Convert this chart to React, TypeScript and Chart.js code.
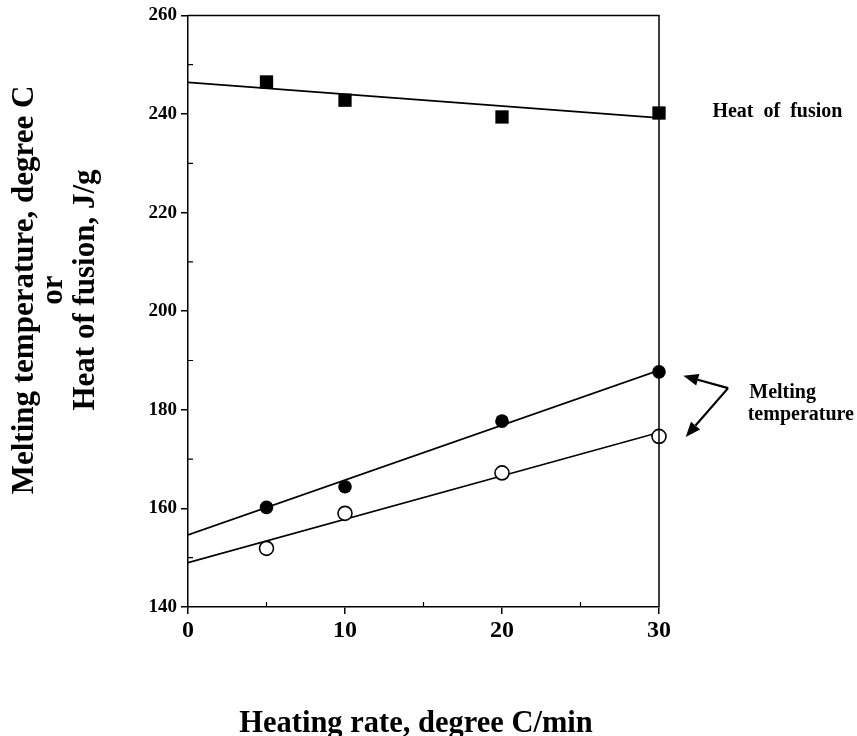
import React, { useEffect, useRef } from "react";
import { Chart, registerables } from "chart.js";

Chart.register(...registerables);

// ---- data ----
const heatingRates = [5, 10, 20, 30];
const heatOfFusion = [246.5, 242.8, 239.4, 240.2];
const meltTempFilled = [160.2, 164.4, 177.7, 187.7];
const meltTempOpen = [151.9, 159.0, 167.2, 174.6];

const fitX = [0, 30];
const heatFit = [246.4, 239.2];
const filledFit = [154.6, 188.0];
const openFit = [149.0, 175.4];

const xMajorTicks = [0, 10, 20, 30];
const xMinorTicks = [5, 15, 25];
const yMajorTicks = [140, 160, 180, 200, 220, 240, 260];
const yMinorTicks = [150, 170, 190, 210, 230, 250];

const xTitle = "Heating rate, degree C/min";
const yTitleLines = ["Melting temperature, degree C", "or", "Heat of fusion, J/g"];
const heatLabel = "Heat  of  fusion";
const meltLabelLines = ["Melting", "temperature"];

// annotation anchors in data units
const heatLabelAt = { x: 33.4, y: 239.45 };
const meltLabelAt = { x: 35.75, y: 182.4, dy: 4.5 };
const arrowTail = { x: 34.4, y: 184.4 };
const arrowHeads = [
  { x: 31.55, y: 186.9 },
  { x: 31.7, y: 174.5 },
];

const FONT = "'Liberation Serif', 'Times New Roman', Times, serif";

const toXY = (xs: number[], ys: number[]) => xs.map((x, i) => ({ x, y: ys[i] }));

const decorPlugin = {
  id: "decor",
  afterDraw(chart: any) {
    const { ctx, chartArea, scales } = chart;
    const xs = scales.x;
    const ys = scales.y;
    ctx.save();
    ctx.strokeStyle = "#000";
    ctx.fillStyle = "#000";
    ctx.lineWidth = 1.5;
    // top and right frame
    ctx.beginPath();
    ctx.moveTo(chartArea.left, chartArea.top);
    ctx.lineTo(chartArea.right, chartArea.top);
    ctx.lineTo(chartArea.right, chartArea.bottom);
    ctx.stroke();
    // minor ticks (inward)
    ctx.lineWidth = 1.2;
    ctx.beginPath();
    xMinorTicks.forEach((v) => {
      const px = xs.getPixelForValue(v);
      ctx.moveTo(px, chartArea.bottom);
      ctx.lineTo(px, chartArea.bottom - 5);
    });
    yMinorTicks.forEach((v) => {
      const py = ys.getPixelForValue(v);
      ctx.moveTo(chartArea.left, py);
      ctx.lineTo(chartArea.left + 5, py);
    });
    ctx.stroke();

    // x title
    ctx.font = `bold 30.5px ${FONT}`;
    ctx.textAlign = "center";
    ctx.textBaseline = "alphabetic";
    ctx.fillText(xTitle, 416, 732);

    // y title (rotated)
    ctx.font = `bold 31px ${FONT}`;
    const baselines = [33, 62, 94];
    yTitleLines.forEach((t, i) => {
      ctx.save();
      ctx.translate(baselines[i], 290);
      ctx.rotate(-Math.PI / 2);
      ctx.textAlign = "center";
      ctx.textBaseline = "alphabetic";
      ctx.fillText(t, 0, 0);
      ctx.restore();
    });

    // annotation labels
    ctx.font = `bold 20px ${FONT}`;
    ctx.textAlign = "left";
    ctx.textBaseline = "alphabetic";
    ctx.fillText(heatLabel, xs.getPixelForValue(heatLabelAt.x), ys.getPixelForValue(heatLabelAt.y));
    meltLabelLines.forEach((t, i) => {
      ctx.fillText(
        t,
        xs.getPixelForValue(meltLabelAt.x - i * 0.1),
        ys.getPixelForValue(meltLabelAt.y - i * meltLabelAt.dy)
      );
    });

    // arrows
    const tx = xs.getPixelForValue(arrowTail.x);
    const ty = ys.getPixelForValue(arrowTail.y);
    arrowHeads.forEach((h) => {
      const hx = xs.getPixelForValue(h.x);
      const hy = ys.getPixelForValue(h.y);
      const ang = Math.atan2(hy - ty, hx - tx);
      const len = 15;
      const wid = 6;
      const bx = hx - len * Math.cos(ang);
      const by = hy - len * Math.sin(ang);
      ctx.lineWidth = 2.2;
      ctx.beginPath();
      ctx.moveTo(tx, ty);
      ctx.lineTo(bx, by);
      ctx.stroke();
      ctx.beginPath();
      ctx.moveTo(hx, hy);
      ctx.lineTo(bx + wid * Math.sin(ang), by - wid * Math.cos(ang));
      ctx.lineTo(bx - wid * Math.sin(ang), by + wid * Math.cos(ang));
      ctx.closePath();
      ctx.fill();
    });
    ctx.restore();
  },
};

export default function App() {
  const ref = useRef<HTMLCanvasElement | null>(null);

  useEffect(() => {
    document.body.style.margin = "0";
    const canvas = ref.current;
    if (!canvas) return;
    const chart = new Chart(canvas, {
      type: "scatter",
      data: {
        datasets: [
          {
            label: "Heat of fusion",
            data: toXY(heatingRates, heatOfFusion),
            pointStyle: "rect",
            pointRadius: 9.4,
            backgroundColor: "#000",
            borderColor: "#000",
            borderWidth: 0,
            showLine: false,
            clip: false,
          },
          {
            label: "Melting temperature (filled)",
            data: toXY(heatingRates, meltTempFilled),
            pointStyle: "circle",
            pointRadius: 6.8,
            backgroundColor: "#000",
            borderColor: "#000",
            borderWidth: 0,
            showLine: false,
            clip: false,
          },
          {
            label: "Melting temperature (open)",
            data: toXY(heatingRates, meltTempOpen),
            pointStyle: "circle",
            pointRadius: 7,
            backgroundColor: "#fff",
            borderColor: "#000",
            borderWidth: 1.6,
            showLine: false,
            clip: false,
          },
          {
            label: "Heat fit",
            data: toXY(fitX, heatFit),
            showLine: true,
            pointRadius: 0,
            borderColor: "#000",
            borderWidth: 1.7,
          },
          {
            label: "Filled fit",
            data: toXY(fitX, filledFit),
            showLine: true,
            pointRadius: 0,
            borderColor: "#000",
            borderWidth: 1.7,
          },
          {
            label: "Open fit",
            data: toXY(fitX, openFit),
            showLine: true,
            pointRadius: 0,
            borderColor: "#000",
            borderWidth: 1.7,
          },
        ],
      },
      options: {
        animation: false,
        responsive: false,
        devicePixelRatio: 1,
        layout: { padding: { left: 0, right: 198, top: 15, bottom: 0 } },
        plugins: { legend: { display: false }, tooltip: { enabled: false } },
        scales: {
          x: {
            type: "linear",
            min: 0,
            max: 30,
            afterFit: (s: any) => {
              s.height = 129;
            },
            afterBuildTicks: (s: any) => {
              s.ticks = xMajorTicks.map((v) => ({ value: v }));
            },
            ticks: {
              color: "#000",
              font: { family: FONT, size: 24, weight: "bold" },
              padding: 2,
              maxRotation: 0,
              autoSkip: false,
            },
            grid: {
              drawOnChartArea: false,
              drawTicks: true,
              tickLength: 7,
              color: "#000",
              lineWidth: 1.5,
            },
            border: { display: true, color: "#000", width: 1.5 },
          },
          y: {
            type: "linear",
            min: 140,
            max: 260,
            afterFit: (s: any) => {
              s.width = 188;
            },
            afterBuildTicks: (s: any) => {
              s.ticks = yMajorTicks.map((v) => ({ value: v }));
            },
            ticks: {
              color: "#000",
              font: { family: FONT, size: 19, weight: "bold" },
              padding: 4,
              autoSkip: false,
            },
            grid: {
              drawOnChartArea: false,
              drawTicks: true,
              tickLength: 7,
              color: "#000",
              lineWidth: 1.5,
            },
            border: { display: true, color: "#000", width: 1.5 },
          },
        },
      },
      plugins: [decorPlugin],
    });
    return () => chart.destroy();
  }, []);

  return (
    <div style={{ position: "absolute", left: 0, top: 0, width: 857, height: 736, background: "#fff" }}>
      <canvas ref={ref} width={857} height={736} />
    </div>
  );
}
